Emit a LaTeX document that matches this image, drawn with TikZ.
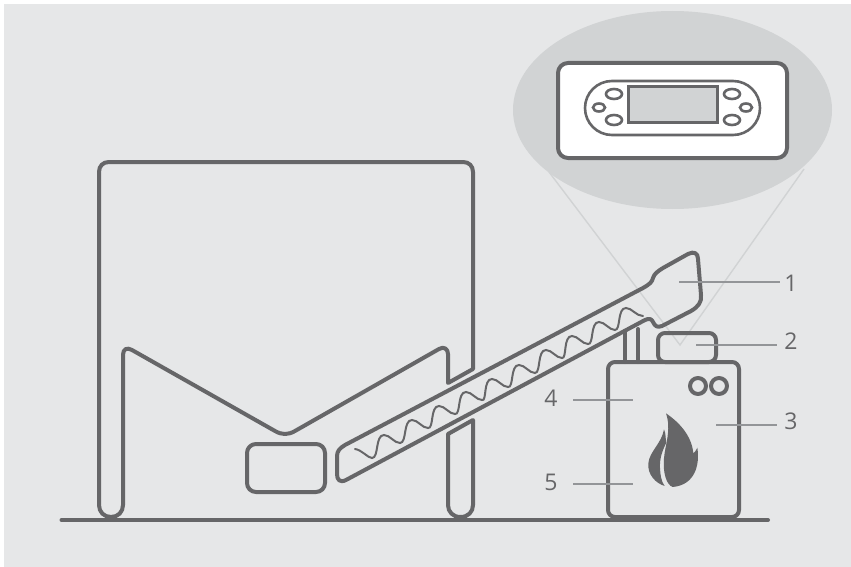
\documentclass[tikz,border=0pt]{standalone}
\usepackage{fontspec}
\setmainfont{Open Sans}
\definecolor{bggray}{HTML}{E6E7E8}
\definecolor{midgray}{HTML}{D1D3D4}
\definecolor{dark}{HTML}{666668}
\definecolor{lead}{HTML}{939598}
\tikzset{
 heavy/.style={draw=dark,line width=4pt,line join=round,line cap=round},
 thin outline/.style={draw=dark,line width=2.6pt},
 leader/.style={draw=lead,line width=1.1pt},
 cone/.style={draw=midgray,line width=1.4pt},
 num/.style={text=dark,font=\fontsize{23}{23}\selectfont,inner sep=0pt,anchor=center},
}
\begin{document}
\begin{tikzpicture}[x=1pt,y=-1pt]
\useasboundingbox (0,0) rectangle (851,567);
\fill[white] (0,0) rectangle (851,567);
\fill[bggray] (4,4) rectangle (851,567);
% cone and lens
\coordinate (apex) at (680,345);
\coordinate (cl) at (549,172);
\coordinate (cr) at (804,169);
\draw[cone] (cl) -- (apex) -- (cr);
\fill[midgray] (672.5,110) ellipse [x radius=159.5,y radius=99];
% panel
\draw[heavy,fill=white,rounded corners=10pt] (558,63) rectangle (787,158);
\draw[thin outline,rounded corners=27pt] (585,81) rectangle (760,135);
\draw[thin outline,line width=3pt,fill=midgray] (628,87) rectangle (717,123);
\foreach \cx/\cy/\rx/\ry in {614/94/8/5,614/120/8/5,599/107.5/6/4,732/94/8/5,732/120/8/5,746/107.5/6/4}
  \draw[thin outline] (\cx,\cy) ellipse [x radius=\rx,y radius=\ry];
% silo
\draw[heavy]
  (448,383) -- (473,369) -- (473,172)
  .. controls (473,166) and (469,162) .. (463,162) -- (109,162)
  .. controls (103,162) and (99,166) .. (99,172) -- (99,505)
  .. controls (99,512) and (104,517) .. (111,517)
  .. controls (118,517) and (123,512) .. (123,505) -- (123,355)
  .. controls (123,349) and (127,347) .. (132,350)
  -- (275,431) .. controls (282,435) and (288,435) .. (295,431)
  -- (439,349) .. controls (444,346) and (448,349) .. (448,354) -- cycle;
\draw[heavy] (473,420) -- (448,434) -- (448,505)
  .. controls (448,512) and (453,517) .. (460.5,517)
  .. controls (468,517) and (473,512) .. (473,505) -- cycle;
% bin
\draw[heavy,rounded corners=9pt] (247,444) rectangle (325,492);
% auger
\draw[heavy]
  (345,445) -- (643,288) .. controls (650,284) and (652,282) .. (653,278)
  .. controls (654,274) and (658,271) .. (663,268)
  -- (688,254) .. controls (694,251) and (698,253) .. (698,259)
  -- (701,295) .. controls (702,302) and (698,307) .. (691,311)
  -- (662,326) .. controls (657,328) and (655,326) .. (653,322)
  .. controls (652,319) and (649,318) .. (645,320)
  -- (346,480) .. controls (340,483) and (337,480) .. (337,474)
  -- (337,456) .. controls (337,451) and (340,448) .. (345,445) -- cycle;
\draw[draw=dark,line width=2pt,line cap=round] (355,449)
  .. controls (362,450) and (368,458) .. (372,458)
  \foreach \x/\y in {400/443,428/428,455/414,482/400,508/387,535/373,562/358,588/344,615/330}{
   .. controls (\x-21,\y+15) and (\x-25,\y-8) .. (\x-16,\y-8)
   .. controls (\x-10,\y-8) and (\x-6,\y) .. (\x,\y)
  }
  .. controls (621,330) and (617,308) .. (626,308)
  .. controls (632,308) and (636,316) .. (643,316);
% boiler
\draw[heavy] (625,331) -- (625,362) (638,329) -- (638,362);
\draw[heavy,rounded corners=7pt] (658,333) rectangle (716,362);
\draw[heavy,rounded corners=7pt] (608,362) rectangle (739,517);
\draw[heavy] (698,386) circle [radius=8];
\draw[heavy] (719,386) circle [radius=8];
\begin{scope}[shift={(640,390)},x=0.3333pt,y=-0.3333pt]
\fill[dark] (78,70) .. controls (115,95) and (155,135) .. (160,190)
  .. controls (165,185) and (170,180) .. (172,173)
  .. controls (180,225) and (165,285) .. (98,291)
  .. controls (80,285) and (68,250) .. (72,205)
  .. controls (75,165) and (95,120) .. cycle;
\fill[dark] (72,118) .. controls (78,130) and (76,145) .. (79,158)
  .. controls (68,180) and (58,205) .. (60,235)
  .. controls (61,255) and (64,275) .. (74,288)
  .. controls (48,280) and (22,255) .. (25,220)
  .. controls (28,185) and (65,160) .. cycle;
\end{scope}
% ground
\draw[heavy] (61.5,520) -- (768,520);
% leaders
\coordinate (a1) at (679,282); \coordinate (b1) at (780,282);
\coordinate (a2) at (696,345); \coordinate (b2) at (777,345);
\coordinate (a3) at (716,425); \coordinate (b3) at (777,425);
\coordinate (a4) at (573,400); \coordinate (b4) at (633,400);
\coordinate (a5) at (573,484); \coordinate (b5) at (633,484);
\foreach \n in {1,...,5} \draw[leader] (a\n) -- (b\n);
\node[num] (n1) at (791,283) {1};
\node[num] (n2) at (791,341) {2};
\node[num] (n3) at (791,421) {3};
\node[num] (n4) at (551,398) {4};
\node[num] (n5) at (551,482) {5};
\end{tikzpicture}
\end{document}
